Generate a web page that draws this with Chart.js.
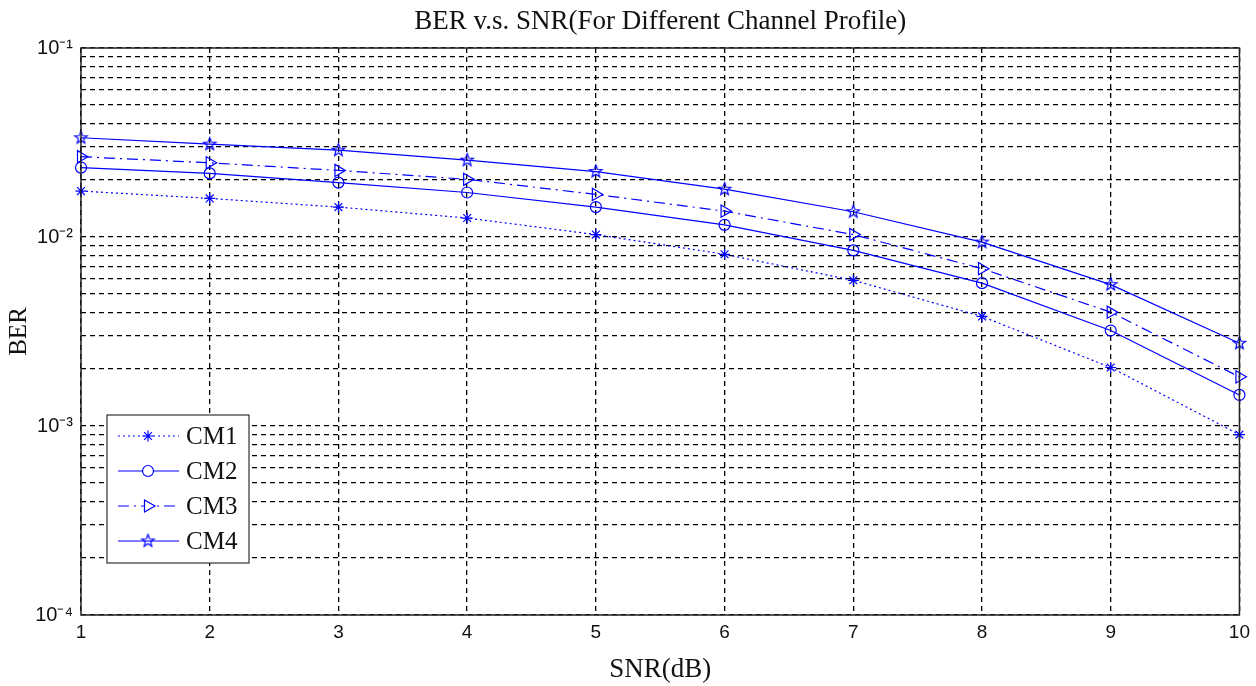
<!DOCTYPE html>
<html>
<head>
<meta charset="utf-8">
<script src="https://cdn.jsdelivr.net/npm/chart.js@4.4.1/dist/chart.umd.min.js"></script>
<style>
    html, body { margin: 0; padding: 0; background: #fff; }
    #wrap { width: 1256px; height: 686px; }
</style>
</head>
<body>
<div id="wrap"><canvas id="ber-chart" width="1256" height="686"></canvas></div>
<script>
const snr = [1, 2, 3, 4, 5, 6, 7, 8, 9, 10];
const cm1 = [0.0175, 0.0160, 0.0144, 0.0126, 0.0103, 0.0081, 0.0059, 0.0038, 0.00204, 0.0009];
const cm2 = [0.0233, 0.0217, 0.0194, 0.0172, 0.0144, 0.0116, 0.0085, 0.0057, 0.0032, 0.00146];
const cm3 = [0.0266, 0.0247, 0.0225, 0.0202, 0.0168, 0.0137, 0.0103, 0.0068, 0.0040, 0.00182];
const cm4 = [0.0335, 0.0310, 0.0288, 0.0255, 0.0222, 0.0179, 0.0136, 0.0094, 0.0056, 0.00274];
const decades = [1e-4, 1e-3, 1e-2, 1e-1];
const decadeLabels = ['10⁻⁴', '10⁻³', '10⁻²', '10⁻¹'];
const chartTitle = 'BER v.s. SNR(For Different Channel Profile)';

const blue = '#0000ff';
const serif = '"Liberation Serif", "Times New Roman", serif';
const sans = '"Liberation Sans", Arial, sans-serif';

// y gridlines at 1..9 x each decade (matlab style minor grid)
let yTicks = [];
decades.forEach((d, i) => {
    if (i === decades.length - 1) {
        yTicks.push(d);
        return;
    }
    for (let k = 1; k <= 9; k++) {
        yTicks.push(Math.round(k * d * 1e6) / 1e6);
    }
});

// pentagram marker
function makePentagram(r) {
    const c = document.createElement('canvas');
    const s = Math.ceil(r * 2 + 4);
    c.width = s;
    c.height = s;
    const g = c.getContext('2d');
    g.strokeStyle = blue;
    g.lineWidth = 1.2;
    g.beginPath();
    for (let i = 0; i < 10; i++) {
        const rr = i % 2 === 0 ? r : r * 0.42;
        const a = -Math.PI / 2 + i * Math.PI / 5;
        const px = s / 2 + rr * Math.cos(a);
        const py = s / 2 + rr * Math.sin(a);
        if (i === 0) g.moveTo(px, py); else g.lineTo(px, py);
    }
    g.closePath();
    g.stroke();
    return c;
}
const pentagram = makePentagram(6.5);

function pts(arr) {
    return snr.map((x, i) => ({ x: x, y: arr[i] }));
}

const series = [
    { label: 'CM1', data: cm1, dash: [2, 3], style: 'star', rot: 0, radius: 5.5 },
    { label: 'CM2', data: cm2, dash: [], style: 'circle', rot: 0, radius: 5.5 },
    { label: 'CM3', data: cm3, dash: [11, 5, 2, 5], style: 'triangle', rot: 90, radius: 7 },
    { label: 'CM4', data: cm4, dash: [], style: pentagram, rot: 0, radius: 6 }
];

const datasets = series.map(s => ({
    label: s.label,
    data: pts(s.data),
    borderColor: blue,
    borderWidth: 1.2,
    borderDash: s.dash,
    backgroundColor: 'rgba(0,0,0,0)',
    pointStyle: s.style,
    pointRotation: s.rot,
    pointRadius: s.radius,
    pointBorderColor: blue,
    pointBackgroundColor: 'rgba(0,0,0,0)',
    pointBorderWidth: 1.2,
    tension: 0,
    clip: false
}));

// title over plot, box around plot, legend box
const framePlugin = {
    id: 'frame',
    afterDraw(chart) {
        const ctx = chart.ctx;
        const a = chart.chartArea;
        ctx.save();
        ctx.fillStyle = '#111';
        ctx.font = '27px ' + serif;
        ctx.textAlign = 'center';
        ctx.textBaseline = 'middle';
        ctx.fillText(chartTitle, (a.left + a.right) / 2, 22);

        ctx.strokeStyle = '#222';
        ctx.lineWidth = 1.5;
        ctx.strokeRect(a.left, a.top, a.right - a.left, a.bottom - a.top);

        // legend
        const lx = a.left + 26, ly = a.top + 367, lw = 142, lh = 148;
        ctx.fillStyle = '#fff';
        ctx.fillRect(lx, ly, lw, lh);
        ctx.lineWidth = 1.2;
        ctx.strokeStyle = '#333';
        ctx.strokeRect(lx, ly, lw, lh);
        series.forEach((s, i) => {
            const y = ly + 21 + i * 35;
            ctx.strokeStyle = blue;
            ctx.lineWidth = 1.2;
            ctx.setLineDash(s.dash);
            ctx.beginPath();
            ctx.moveTo(lx + 11, y);
            ctx.lineTo(lx + 72, y);
            ctx.stroke();
            ctx.setLineDash([]);
            ctx.fillStyle = '#fff';
            ctx.strokeStyle = blue;
            Chart.helpers.drawPoint(ctx, {
                pointStyle: s.style,
                rotation: s.rot,
                radius: s.radius,
                borderWidth: 1.2
            }, lx + 41, y);
            ctx.fillStyle = '#111';
            ctx.font = '25px ' + serif;
            ctx.textBaseline = 'middle';
            ctx.textAlign = 'left';
            ctx.fillText(s.label, lx + 79, y + 1);
        });
        ctx.restore();
    }
};

new Chart(document.getElementById('ber-chart'), {
    type: 'line',
    data: { datasets: datasets },
    options: {
        responsive: false,
        animation: false,
        layout: { padding: { left: 0, right: 15, top: 48, bottom: 0 } },
        plugins: {
            legend: { display: false },
            tooltip: { enabled: false },
            title: { display: false }
        },
        scales: {
            x: {
                type: 'linear',
                min: 1,
                max: 10,
                ticks: {
                    stepSize: 1,
                    color: '#111',
                    padding: 6,
                    maxRotation: 0,
                    font: { family: sans, size: 19 }
                },
                grid: {
                    color: '#000',
                    lineWidth: 1.3,
                    drawTicks: false
                },
                border: { display: false, dash: [5, 4] },
                title: {
                    display: true,
                    text: 'SNR(dB)',
                    color: '#111',
                    font: { family: serif, size: 27 },
                    padding: { top: 5, bottom: 0 }
                },
                afterFit(scale) { scale.height = 71; }
            },
            y: {
                type: 'logarithmic',
                min: 1e-4,
                max: 1e-1,
                afterBuildTicks(scale) {
                    scale.ticks = yTicks.map(v => ({ value: v, major: decades.includes(v) }));
                },
                ticks: {
                    color: '#111',
                    padding: 8,
                    autoSkip: false,
                    font: { family: sans, size: 20 },
                    callback(value) {
                        const i = decades.findIndex(d => Math.abs(d - value) < d * 1e-6);
                        return i >= 0 ? decadeLabels[i] : '';
                    }
                },
                grid: {
                    color: '#000',
                    lineWidth: 1.3,
                    drawTicks: false
                },
                border: { display: false, dash: [5, 4] },
                title: {
                    display: true,
                    text: 'BER',
                    color: '#111',
                    font: { family: serif, size: 25 },
                    padding: { top: 4, bottom: 0 }
                },
                afterFit(scale) { scale.width = 81; }
            }
        }
    },
    plugins: [framePlugin]
});
</script>
</body>
</html>
